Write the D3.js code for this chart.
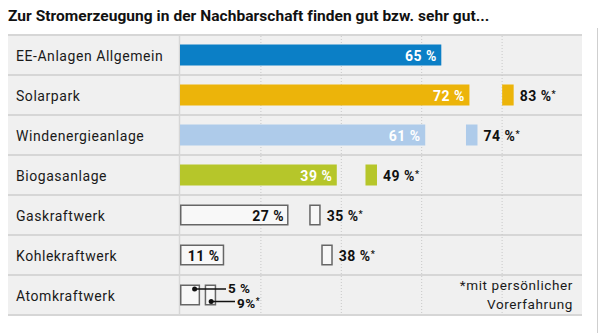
<!DOCTYPE html>
<html>
<head>
<meta charset="utf-8">
<script src="https://cdn.jsdelivr.net/npm/d3@7"></script>
<style>
  body { margin: 0; background: #fff; }
  svg { display: block; font-family: Roboto, "DejaVu Sans", sans-serif; }
</style>
</head>
<body>
<div id="chart"></div>
<script>
// Zustimmung zu Anlagen in der Nachbarschaft (in %)
var categories = ["EE-Anlagen Allgemein", "Solarpark", "Windenergieanlage", "Biogasanlage",
                  "Gaskraftwerk", "Kohlekraftwerk", "Atomkraftwerk"];
var allValues = [65, 72, 61, 39, 27, 11, 5];
// mit persönlicher Vorerfahrung
var experienceValues = [null, 83, 74, 49, 35, 38, 9];
var barColors = ["#0b7fc6", "#ecb40a", "#aecbea", "#b6c62a", null, null, null];
var gridTicks = [20, 40, 60, 80];

var width = 599, height = 333;
var panelLeft = 8, panelRight = 582, panelTop = 35, rowH = 40;
var axisLeft = 180;

var svg = d3.select("#chart").append("svg")
    .attr("width", width)
    .attr("height", height);

svg.append("text")
    .attr("x", 8)
    .attr("y", 20.5)
    .attr("font-size", 15.5)
    .attr("font-weight", "bold")
    .attr("letter-spacing", 0.05)
    .attr("fill", "#111")
    .text("Zur Stromerzeugung in der Nachbarschaft finden gut bzw. sehr gut...");

var x = d3.scaleLinear().domain([0, 100]).range([axisLeft, panelRight]);
var y = d3.scaleBand().domain(categories)
    .range([panelTop, panelTop + rowH * categories.length])
    .paddingInner(0).paddingOuter(0);

var bh = 21;
var barTop = function(d) { return y(d) + (y.bandwidth() - bh) / 2; };

// Hintergrund
svg.append("rect")
    .attr("x", panelLeft).attr("y", panelTop)
    .attr("width", panelRight - panelLeft)
    .attr("height", y.range()[1] - panelTop)
    .attr("fill", "#f0f0f0");

// Trennlinien zwischen den Zeilen
svg.append("g").selectAll("line")
    .data(d3.range(categories.length + 1))
    .join("line")
    .attr("x1", panelLeft).attr("x2", panelRight)
    .attr("y1", function(i) { return panelTop + i * rowH; })
    .attr("y2", function(i) { return panelTop + i * rowH; })
    .attr("stroke", "#d6d6d6")
    .attr("stroke-width", 2);

// Raster
svg.append("g").selectAll("line")
    .data(gridTicks)
    .join("line")
    .attr("x1", function(d) { return x(d) + 0.5; })
    .attr("x2", function(d) { return x(d) + 0.5; })
    .attr("y1", panelTop + 1).attr("y2", y.range()[1] - 1)
    .attr("stroke", "#c8c8c8")
    .attr("stroke-dasharray", "1,2");

svg.append("line")
    .attr("x1", axisLeft - 0.5).attr("x2", axisLeft - 0.5)
    .attr("y1", panelTop + 1).attr("y2", y.range()[1] - 1)
    .attr("stroke", "#d6d6d6")
    .attr("stroke-width", 1.5);

// rechter Rand
svg.append("line")
    .attr("x1", 597.5).attr("x2", 597.5)
    .attr("y1", 28).attr("y2", height)
    .attr("stroke", "#cfcfcf");

// Kategorien
svg.append("g").selectAll("text")
    .data(categories)
    .join("text")
    .attr("x", 16)
    .attr("y", function(d) { return y(d) + y.bandwidth() / 2 + 5.5; })
    .attr("font-size", 14)
    .attr("letter-spacing", 0.55)
    .attr("fill", "#1a1a1a")
    .text(function(d) { return d; });

var rows = categories.map(function(c, i) {
  return { cat: c, all: allValues[i], exp: experienceValues[i], color: barColors[i] };
});

// Hauptbalken
svg.append("g").selectAll("rect")
    .data(rows)
    .join("rect")
    .attr("x", function(d) { return d.color ? x(0) : x(0) + 0.75; })
    .attr("y", function(d) { return d.color ? barTop(d.cat) : barTop(d.cat) + 0.75; })
    .attr("width", function(d) { return d.color ? x(d.all) - x(0) : x(d.all) - x(0) - 1.5; })
    .attr("height", function(d) { return d.color ? bh : bh - 1.5; })
    .attr("fill", function(d) { return d.color || "#f8f8f8"; })
    .attr("stroke", function(d) { return d.color ? "none" : "#666"; })
    .attr("stroke-width", 1.5);

// Markierungen "mit Vorerfahrung"
var markW = 11.5;
svg.append("g").selectAll("rect")
    .data(rows.filter(function(d) { return d.exp != null; }))
    .join("rect")
    .attr("x", function(d) { return d.color ? x(d.exp) - markW : x(d.exp) - markW + 0.75; })
    .attr("y", function(d) { return d.color ? barTop(d.cat) : barTop(d.cat) + 0.75; })
    .attr("width", function(d) { return d.color ? markW : markW - 1.5; })
    .attr("height", function(d) { return d.color ? bh : bh - 1.5; })
    .attr("fill", function(d) { return d.color || "#f8f8f8"; })
    .attr("stroke", function(d) { return d.color ? "none" : "#666"; })
    .attr("stroke-width", 1.5);

var valFont = 14;

// Werte in den Balken
svg.append("g").selectAll("text")
    .data(rows.filter(function(d) { return d.all >= 10; }))
    .join("text")
    .attr("x", function(d) { return x(d.all) - 4.5; })
    .attr("y", function(d) { return y(d.cat) + y.bandwidth() / 2 + 5.5; })
    .attr("text-anchor", "end")
    .attr("font-size", valFont)
    .attr("font-weight", "bold")
    .attr("letter-spacing", 0.5)
    .attr("fill", function(d) { return d.color ? "#fff" : "#111"; })
    .text(function(d) { return d.all + " %"; });

// Werte neben den Markierungen
var expText = svg.append("g").selectAll("text")
    .data(rows.filter(function(d) { return d.exp != null && d.all >= 10; }))
    .join("text")
    .attr("x", function(d) { return x(d.exp) + 6; })
    .attr("y", function(d) { return y(d.cat) + y.bandwidth() / 2 + 5.5; })
    .attr("font-size", valFont)
    .attr("font-weight", "bold")
    .attr("letter-spacing", 0.5)
    .attr("fill", "#111");
expText.append("tspan").text(function(d) { return d.exp + " %"; });
expText.append("tspan").attr("font-size", 9).attr("dy", -4).text("*");

// Atomkraftwerk: Werte mit Hinweislinien
var atom = rows[rows.length - 1];
var ay = y(atom.cat);
var callouts = [
  { px: x(atom.all) - 5.5, py: ay + 14, ty: ay + 17.5, lx: 226, text: atom.all + " %", star: false },
  { px: x(atom.exp) - 5, py: ay + 26.5, ty: ay + 32.5, lx: 235, text: atom.exp + "%", star: true }
];
var cg = svg.append("g");
callouts.forEach(function(c) {
  cg.append("line")
    .attr("x1", c.px).attr("x2", c.lx)
    .attr("y1", c.py).attr("y2", c.py)
    .attr("stroke", "#111").attr("stroke-width", 1.5);
  cg.append("circle")
    .attr("cx", c.px).attr("cy", c.py).attr("r", 2.5)
    .attr("fill", "#111");
  var t = cg.append("text")
    .attr("x", c.lx + 2)
    .attr("y", c.ty)
    .attr("font-size", 13.5)
    .attr("font-weight", "bold")
    .attr("letter-spacing", 0.5)
    .attr("fill", "#111");
  t.append("tspan").text(c.text);
  if (c.star) t.append("tspan").attr("font-size", 8.5).attr("dy", -4).text("*");
});

// Fußnote
var note = svg.append("text")
    .attr("text-anchor", "end")
    .attr("font-size", 13.5)
    .attr("letter-spacing", 0.6)
    .attr("fill", "#1a1a1a");
note.append("tspan").attr("x", 573).attr("y", ay + 15).text("*mit persönlicher");
note.append("tspan").attr("x", 573).attr("y", ay + 34).text("Vorerfahrung");
</script>
</body>
</html>
